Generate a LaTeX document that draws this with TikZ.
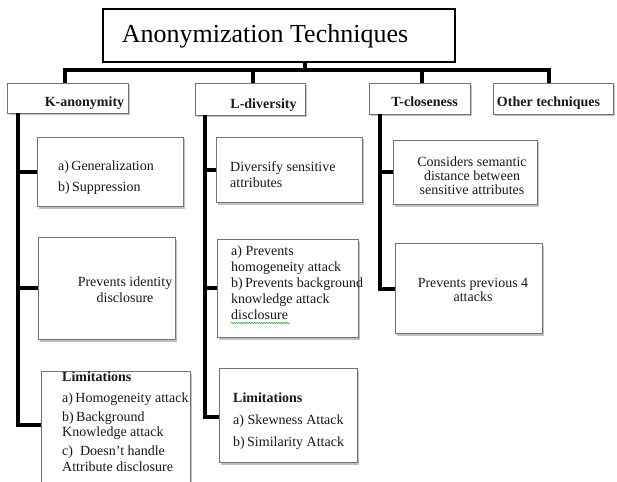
\documentclass[tikz,border=0pt]{standalone}
\usepackage{fontspec}
\setmainfont{Liberation Serif}
\usetikzlibrary{shadows,fit,decorations.pathmorphing}
\begin{document}
\begin{tikzpicture}[x=1pt,y=-1pt,
  box/.style={draw=black!55, line width=0.9pt, fill=white, inner sep=0pt,
    drop shadow={shadow xshift=1.5pt, shadow yshift=-2.5pt, opacity=0.35, fill=black!70}},
  titlebox/.style={draw=black, line width=1.3pt, fill=white, inner sep=0pt},
  conn/.style={line width=4pt, black, line join=miter},
  txt/.style={font=\fontsize{14}{15.5}\selectfont, inner sep=0pt, text=black!90},
  hd/.style={font=\fontsize{14}{16}\selectfont\bfseries, inner sep=0pt, text=black!90}]
\useasboundingbox (0,0) rectangle (617,481);

% boxes
\node[titlebox, fit={(103,9) (455,62)}] (title) {};
\node[box, fit={(7,83) (128,113)}] (K) {};
\node[box, fit={(195,83) (305,115)}] (L) {};
\node[box, fit={(369,83) (470,114)}] (T) {};
\node[box, fit={(493,83) (613,114)}] (O) {};

\node[box, fit={(37,137) (183,206)}] (K1) {};
\node[box, fit={(38,237) (175,339)}] (K2) {};
\node[box, fit={(41,371) (190,495)}] (K3) {};

\node[box, fit={(216,137) (362,202)}] (L1) {};
\node[box, fit={(217,239) (358,337)}] (L2) {};
\node[box, fit={(219,368) (357,462)}] (L3) {};

\node[box, fit={(393,140) (537,204)}] (T1) {};
\node[box, fit={(395,243) (542,333)}] (T2) {};

% texts (base anchor = baseline of the last line)
\node[font=\fontsize{26}{30}\selectfont, inner sep=0pt, anchor=base] (titletext) at (265,43) {Anonymization Techniques};
\node[hd, anchor=base] (Kt) at (84.5,107) {K-anonymity};
\node[hd, anchor=base] (Lt) at (263.5,109) {L-diversity};
\node[hd, anchor=base] (Tt) at (424.5,107) {T-closeness};
\node[hd, anchor=base] (Ot) at (548.5,107) {Other techniques};

\node[txt, align=left, anchor=base west] (K1t) at (58,191) {a)\,Generalization\\[5pt]b)\,Suppression};
\node[txt, align=center, anchor=base] (K2t) at (125,302) {Prevents identity\\disclosure};
\node[txt, align=left, anchor=base west] (K3t) at (62,471) {\textbf{Limitations}\\[5pt]a)\,Homogeneity attack\\[3.5pt]b)\,Background\\Knowledge attack\\[3.5pt]c)\ \ Doesn’t handle\\Attribute disclosure};

\node[txt, align=left, anchor=base west] (L1t) at (230,187) {Diversify sensitive\\attributes};
\node[txt, font=\fontsize{14}{16}\selectfont, align=left, anchor=base west] (L2t) at (231,319) {a)\ Prevents\\homogeneity attack\\b)\,Prevents background\\knowledge attack\\disclosure};
\node[txt, font=\fontsize{14}{22}\selectfont, align=left, anchor=base west] (L3t) at (233,446) {\textbf{Limitations}\\a)\ Skewness Attack\\b)\,Similarity Attack};

\node[txt, font=\fontsize{14}{14}\selectfont, align=center, anchor=base] (T1t) at (472,194) {Considers semantic\\distance between\\sensitive attributes};
\node[txt, font=\fontsize{14}{14}\selectfont, align=center, anchor=base] (T2t) at (473,301) {Prevents previous 4\\attacks};

\draw[green!60!black, line width=0.5pt, decorate, decoration={snake, amplitude=0.6pt, segment length=2.5pt}] (231,323) -- (290,323);

% connectors
\coordinate (stem) at (305,70);
\coordinate (kd) at (65,70);
\coordinate (ld) at (253,70);
\coordinate (td) at (422,70);
\coordinate (od) at (549,70);
\draw[conn] (stem |- title.south) -- (stem);
\draw[conn] (kd |- K.north) -- (kd) -- (od) -- (od |- O.north);
\draw[conn] (ld) -- (ld |- L.north);
\draw[conn] (td) -- (td |- T.north);

\coordinate (kx) at (18,425);
\draw[conn] (kx |- K.south) -- (kx) -- (kx -| K3.west);
\draw[conn] (kx |- K1.west) -- (K1.west);
\draw[conn] (kx |- K2.west) -- (K2.west);

\coordinate (lx) at (205,417);
\draw[conn] (lx |- L.south) -- (lx) -- (lx -| L3.west);
\draw[conn] (lx |- L1.west) -- (L1.west);
\draw[conn] (lx |- L2.west) -- (L2.west);

\coordinate (tx) at (380,289);
\draw[conn] (tx |- T.south) -- (tx) -- (tx -| T2.west);
\draw[conn] (tx |- T1.west) -- (T1.west);
\end{tikzpicture}
\end{document}
